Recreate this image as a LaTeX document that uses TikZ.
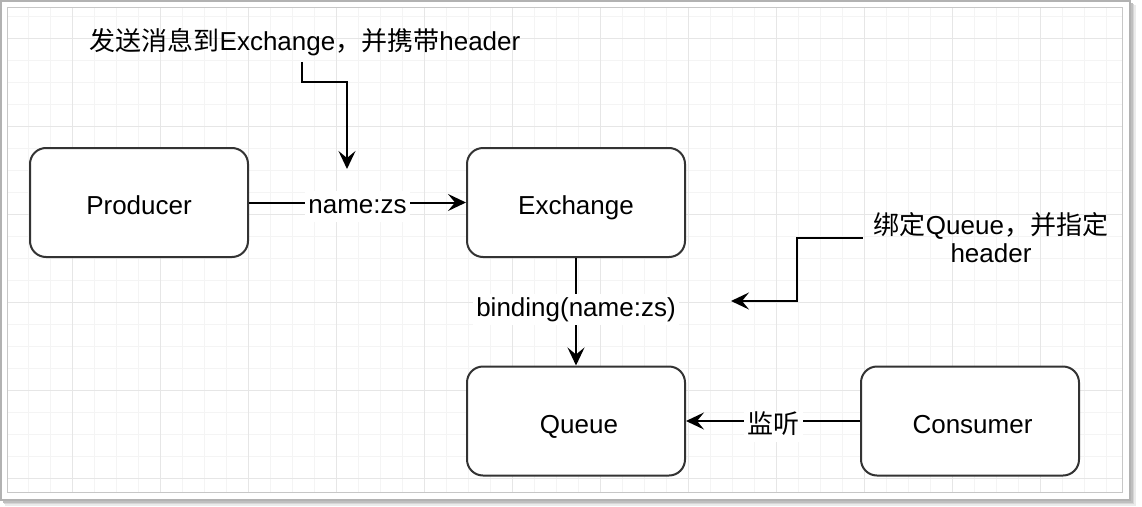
\documentclass[tikz,border=0pt]{standalone}
\usepackage{fontspec}
\setmainfont{Liberation Sans}
\newfontfamily\cjk{Noto Sans CJK SC}
\usetikzlibrary{arrows.meta}
\definecolor{gridminor}{HTML}{F4F4F4}
\definecolor{gridmajor}{HTML}{E6E6E6}
\definecolor{boxline}{HTML}{333333}

\tikzset{
  box/.style={draw=boxline, line width=2pt, rounded corners=16pt, fill=white,
    minimum width=218pt, minimum height=109pt, text height=24pt, text depth=0pt},
  conn/.style={draw=black, line width=2pt, -{Stealth[length=18pt, width=17pt, inset=7pt]}},
  lbl/.style={fill=white, inner xsep=3.5pt, inner ysep=3pt, text height=19pt, text depth=5.5pt, yshift=-4pt},
  note/.style={align=center, inner xsep=11pt, inner ysep=6pt},
}

\begin{document}
\begin{tikzpicture}[x=1pt, y=-1pt, font=\fontsize{26}{28}\selectfont]
  \useasboundingbox (0,0) rectangle (1142,506);
  % frame and grid
  \fill[black!8] (5,5) rectangle (1136,506);
  \fill[black!16] (4,4) rectangle (1134,504);
  \fill[black!25] (3,3) rectangle (1132.5,502.5);
  \filldraw[draw=black!30, fill=white, line width=2pt] (1,1) rectangle (1130,500);
  \begin{scope}
    \clip (8,8) rectangle (1122,492);
    \foreach \gx in {6.7,28.7,...,1122} \draw[gridminor, line width=1pt] (\gx,8) -- (\gx,492);
    \foreach \gy in {16.3,38.3,...,492} \draw[gridminor, line width=1pt] (8,\gy) -- (1122,\gy);
    \foreach \gx in {72.7,160.7,...,1122} \draw[gridmajor, line width=1pt] (\gx,8) -- (\gx,492);
    \foreach \gy in {38.3,126.3,...,492} \draw[gridmajor, line width=1pt] (8,\gy) -- (1122,\gy);
  \end{scope}
  \draw[black!22, line width=1pt] (7.5,7.5) rectangle (1122.5,492.5);

  \node[box] (producer) at (139,202.5) {Producer};
  \node[box] (exchange) at (576,202.5) {Exchange};
  \node[box] (queue) at (576,421) {\hspace*{6pt}Queue};
  \node[box] (consumer) at (970,421) {\hspace*{5pt}Consumer};

  \node[note] (sendnote) at (305,42) {{\cjk 发送消息到}Exchange{\cjk ，并携带}header};
  \node[note] (bindnote) at (991,238) {{\cjk 绑定}Queue{\cjk ，并指定}\\header};
  \coordinate (sendtip) at (347,169);
  \coordinate (bindtip) at (731,301);

  \draw[conn] (producer) -- node[lbl] {name:zs} (exchange);
  \draw[conn] (exchange) -- node[lbl, pos=0.44] {binding(name:zs)} (queue);
  \draw[conn] (consumer) -- node[lbl, yshift=-2pt] {\cjk 监听} (queue);
  \draw[conn] ([xshift=-3pt]sendnote.south) -- ++(0,20) -| (sendtip);
  \draw[conn] (bindnote.west) -- ++(-66,0) |- (bindtip);
\end{tikzpicture}
\end{document}
